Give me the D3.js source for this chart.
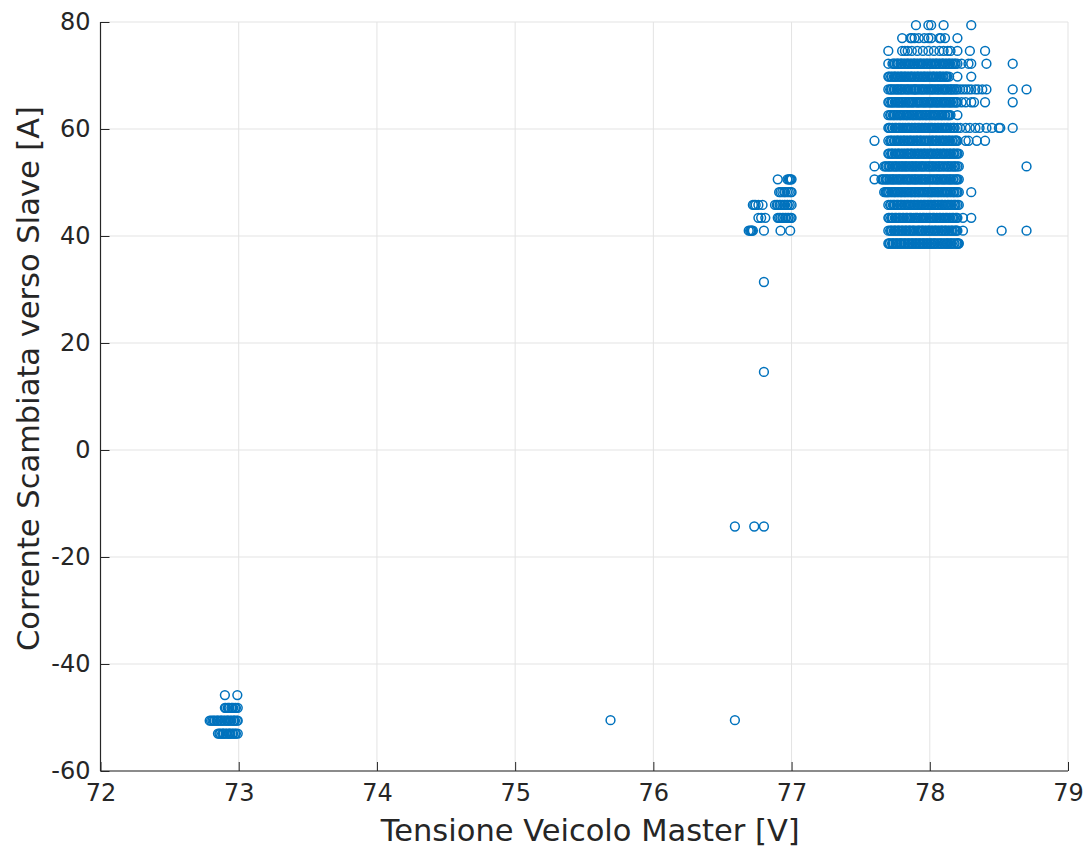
<!DOCTYPE html>
<html>
<head>
<meta charset="utf-8">
<script src="https://cdn.jsdelivr.net/npm/d3@7"></script>
<style>
  html, body { margin: 0; padding: 0; background: #ffffff; }
  svg { display: block; }
  text { font-family: "DejaVu Sans", sans-serif; fill: #262626; }
</style>
</head>
<body>
<svg id="chart" width="1090" height="850"></svg>
<script>
// Axis ticks
const xTicks = [72, 73, 74, 75, 76, 77, 78, 79];
const yTicks = [-60, -40, -20, 0, 20, 40, 60, 80];

// Master voltage samples [V] grouped by exchanged current level [A] — main cluster
const v38_6 = [77.700,77.707,77.713,77.727,77.733,77.740,77.753,77.760,77.767,77.780,77.787,77.793,
  77.800,77.813,77.820,77.827,77.840,77.847,77.853,77.867,77.873,77.880,77.893,
  77.900,77.907,77.920,77.927,77.933,77.947,77.953,77.960,77.973,77.980,77.987,
  78.000,78.007,78.013,78.027,78.033,78.040,78.053,78.060,78.073,78.080,78.087,
  78.100,78.107,78.120,78.127,78.133,78.147,78.153,78.160,78.173,78.180,78.193,
  78.200,78.207,78.210];
const v41_0 = [77.700,77.713,77.720,77.727,77.740,77.747,77.753,77.767,77.773,77.780,77.793,
  77.800,77.807,77.820,77.827,77.833,77.847,77.853,77.860,77.873,77.880,77.887,
  77.900,77.913,77.920,77.927,77.940,77.947,77.953,77.967,77.973,77.987,77.993,
  78.000,78.013,78.020,78.033,78.040,78.047,78.060,78.067,78.080,78.087,78.093,
  78.107,78.113,78.120,78.133,78.140,78.153,78.160,78.167,78.180,78.187,78.193,
  78.200,78.240,78.520,78.700];
const v43_4 = [77.700,77.707,77.720,77.727,77.733,77.747,77.753,77.760,77.773,77.780,77.787,
  77.800,77.807,77.813,77.827,77.833,77.840,77.853,77.860,77.867,77.880,77.893,
  77.900,77.907,77.913,77.927,77.933,77.947,77.953,77.960,77.973,77.980,77.993,
  78.000,78.007,78.020,78.027,78.033,78.047,78.053,78.067,78.073,78.080,78.093,
  78.100,78.113,78.120,78.127,78.140,78.147,78.160,78.167,78.173,78.187,78.193,
  78.200,78.240,78.300];
const v45_8 = [77.700,77.713,77.720,77.733,77.740,77.747,77.760,77.767,77.773,77.787,77.793,
  77.800,77.813,77.820,77.833,77.840,77.847,77.860,77.867,77.880,77.887,77.893,
  77.907,77.913,77.920,77.933,77.940,77.953,77.960,77.967,77.980,77.987,77.993,
  78.007,78.013,78.027,78.033,78.040,78.053,78.060,78.067,78.080,78.087,78.093,
  78.107,78.113,78.127,78.133,78.140,78.153,78.160,78.173,78.180,78.187,78.200,78.210];
const v48_2 = [77.670,77.680,77.687,77.693,
  77.700,77.707,77.720,77.727,77.740,77.747,77.753,77.767,77.773,77.787,77.793,
  77.800,77.813,77.820,77.827,77.840,77.847,77.860,77.867,77.873,77.887,77.893,
  77.900,77.913,77.920,77.927,77.940,77.947,77.960,77.967,77.980,77.987,77.993,
  78.007,78.013,78.020,78.033,78.040,78.053,78.060,78.067,78.080,78.087,
  78.100,78.107,78.120,78.127,78.133,78.147,78.153,78.167,78.173,78.180,78.193,
  78.200,78.210,78.300];
const v50_6 = [77.600,77.650,77.660,77.667,77.680,77.687,77.693,
  77.707,77.713,77.727,77.733,77.740,77.753,77.760,77.773,77.780,77.787,
  77.800,77.807,77.820,77.827,77.840,77.847,77.853,77.867,77.873,77.887,77.893,
  77.900,77.913,77.920,77.933,77.940,77.947,77.960,77.967,77.973,77.987,77.993,
  78.007,78.013,78.027,78.033,78.047,78.053,78.060,78.073,78.080,78.093,
  78.100,78.107,78.120,78.127,78.140,78.147,78.153,78.167,78.173,78.187,78.193,
  78.200,78.210];
const v53_0 = [77.600,77.670,77.680,77.687,
  77.700,77.707,77.713,77.727,77.733,77.747,77.753,77.760,77.773,77.780,77.793,
  77.800,77.807,77.820,77.827,77.833,77.847,77.853,77.867,77.873,77.880,77.893,
  77.900,77.907,77.920,77.927,77.940,77.947,77.953,77.967,77.973,77.987,77.993,
  78.000,78.013,78.020,78.027,78.040,78.047,78.060,78.067,78.073,78.087,78.093,
  78.107,78.113,78.127,78.133,78.140,78.153,78.160,78.173,78.180,78.187,
  78.200,78.210,78.700];
const v55_4 = [77.700,77.707,77.720,77.727,77.733,77.747,77.753,77.767,77.773,77.780,77.793,
  77.800,77.813,77.820,77.833,77.840,77.847,77.860,77.867,77.873,77.887,77.893,
  77.907,77.913,77.920,77.933,77.940,77.953,77.960,77.967,77.980,77.987,
  78.000,78.007,78.013,78.027,78.033,78.047,78.053,78.060,78.073,78.080,78.093,
  78.100,78.107,78.120,78.127,78.140,78.147,78.153,78.167,78.173,78.180,78.193,
  78.200,78.210];
const v57_8 = [77.600,
  77.700,77.713,77.720,77.727,77.740,77.747,77.760,77.767,77.773,77.787,77.793,
  77.807,77.813,77.820,77.833,77.840,77.853,77.860,77.867,77.880,77.887,
  77.900,77.907,77.913,77.927,77.933,77.940,77.953,77.960,77.973,77.980,77.993,
  78.000,78.013,78.020,78.027,78.040,78.047,78.053,78.067,78.073,78.087,78.093,
  78.100,78.113,78.120,78.133,78.140,78.147,78.160,78.167,78.180,78.187,78.193,
  78.200,78.260,78.280,78.340,78.400];
const v60_2 = [77.700,77.707,77.713,77.727,77.733,77.747,77.753,77.760,77.773,77.780,77.787,
  77.800,77.807,77.820,77.827,77.840,77.847,77.853,77.867,77.873,77.887,77.893,
  77.900,77.913,77.920,77.927,77.940,77.947,77.960,77.967,77.973,77.987,77.993,
  78.007,78.013,78.020,78.033,78.040,78.053,78.060,78.067,78.080,78.087,
  78.100,78.107,78.120,78.127,78.133,78.147,78.153,78.167,78.173,78.180,
  78.200,78.220,78.260,78.290,78.330,78.360,78.410,78.450,78.500,78.510,78.600];
const v62_6 = [77.700,77.713,77.720,77.733,77.740,77.747,77.760,77.767,77.780,77.787,77.793,
  77.807,77.813,77.827,77.833,77.840,77.853,77.860,77.873,77.880,77.887,
  77.900,77.907,77.920,77.927,77.933,77.947,77.953,77.967,77.973,77.980,77.993,
  78.000,78.013,78.020,78.033,78.040,78.047,78.060,78.067,78.080,78.087,78.093,
  78.107,78.113,78.127,78.133,78.140,78.150,78.200];
const v65_0 = [77.700,77.707,77.720,77.727,77.733,77.747,77.753,77.767,77.773,77.780,77.793,
  77.800,77.807,77.820,77.827,77.840,77.847,77.853,77.867,77.873,77.880,77.893,
  77.907,77.913,77.920,77.933,77.940,77.953,77.960,77.967,77.980,77.987,
  78.000,78.007,78.013,78.027,78.033,78.047,78.053,78.060,78.073,78.080,78.093,
  78.100,78.107,78.120,78.127,78.140,78.147,78.153,78.167,78.173,78.187,78.193,
  78.200,78.230,78.260,78.300,78.320,78.400,78.600];
const v67_4 = [77.700,77.713,77.720,77.727,77.740,77.747,77.760,77.767,77.773,77.787,77.793,
  77.800,77.813,77.820,77.833,77.840,77.847,77.860,77.867,77.880,77.887,77.893,
  77.900,77.907,77.920,77.927,77.940,77.947,77.953,77.967,77.973,77.987,77.993,
  78.007,78.013,78.020,78.033,78.040,78.053,78.060,78.067,78.080,78.087,
  78.100,78.107,78.113,78.127,78.133,78.147,78.153,78.160,78.173,78.180,78.193,
  78.200,78.220,78.240,78.260,78.280,78.300,78.330,78.350,78.380,78.410,78.600,78.700];
const v69_8 = [77.700,77.707,77.720,77.727,77.740,77.747,77.753,77.767,77.773,77.787,77.793,
  77.800,77.813,77.820,77.827,77.840,77.847,77.860,77.867,77.873,77.887,77.893,
  77.907,77.913,77.920,77.933,77.940,77.953,77.960,77.967,77.980,77.987,
  78.000,78.007,78.020,78.027,78.033,78.047,78.053,78.067,78.073,78.080,78.093,
  78.100,78.113,78.120,78.127,78.140,78.200,78.300];
const v72_2 = [77.700,77.730,77.740,77.747,77.760,77.767,77.773,77.787,77.793,
  77.800,77.813,77.820,77.833,77.840,77.847,77.860,77.867,77.880,77.887,77.893,
  77.907,77.913,77.927,77.933,77.940,77.953,77.960,77.973,77.980,77.987,
  78.000,78.007,78.020,78.027,78.040,78.047,78.053,78.067,78.073,78.087,78.093,
  78.100,78.113,78.120,78.133,78.140,78.147,78.160,78.167,78.180,78.187,
  78.200,78.230,78.280,78.300,78.410,78.600];
const v74_6 = [77.70,77.80,77.82,77.84,77.87,77.91,77.95,77.99,78.03,78.07,78.10,78.13,78.15,78.20,78.29,78.40];
const v77_0 = [77.80,77.86,77.87,77.89,77.92,77.96,77.99,78.01,78.07,78.08,78.11,78.20];
const v79_4 = [77.90,77.99,78.01,78.10,78.30];

const mainLevels = [38.6, 41.0, 43.4, 45.8, 48.2, 50.6, 53.0, 55.4, 57.8, 60.2, 62.6, 65.0, 67.4, 69.8, 72.2, 74.6, 77.0, 79.4];
const mainRows = [v38_6, v41_0, v43_4, v45_8, v48_2, v50_6, v53_0, v55_4, v57_8, v60_2, v62_6, v65_0, v67_4, v69_8, v72_2, v74_6, v77_0, v79_4];

// Intermediate cluster near 77 V
const m41_0 = [76.690,76.700,76.707,76.713,76.720,76.800,76.920,76.990];
const m43_4 = [76.760,76.780,76.810,76.900,76.910,76.920,76.933,76.940,76.953,76.960,76.973,76.980,76.993,77.000];
const m45_8 = [76.720,76.730,76.740,76.760,76.790,76.880,76.893,76.900,76.913,76.920,76.933,76.947,76.953,76.967,76.973,76.987,77.000];
const m48_2 = [76.910,76.920,76.933,76.947,76.953,76.967,76.980,76.993,77.000];
const m50_6 = [76.900,76.970,76.980,76.987,76.993,77.000];
const midLevels = [41.0, 43.4, 45.8, 48.2, 50.6];
const midRows = [m41_0, m43_4, m45_8, m48_2, m50_6];

// Low-voltage cluster near 73 V (negative current)
const b45_8 = [72.900,72.990];
const b48_2 = [72.900,72.907,72.920,72.927,72.933,72.947,72.953,72.960,72.973,72.980,72.993];
const b50_6 = [72.790,72.800,72.810,72.820,72.827,72.840,72.847,72.853,72.867,72.873,72.880,72.893,72.900,72.913,72.920,72.927,72.940,72.947,72.960,72.967,72.973,72.987,72.993];
const b53_0 = [72.850,72.860,72.867,72.880,72.887,72.893,72.907,72.913,72.927,72.933,72.940,72.953,72.960,72.973,72.980,72.993];
const lowLevels = [-45.8, -48.2, -50.6, -53.0];
const lowRows = [b45_8, b48_2, b50_6, b53_0];

// Isolated samples
const isoVoltage = [76.80, 76.80, 76.59, 76.73, 76.80, 75.69, 76.59];
const isoCurrent = [31.4, 14.6, -14.3, -14.3, -14.3, -50.5, -50.5];

// Build the point list
const points = [];
function addRows(levels, rows) {
  rows.forEach((row, i) => row.forEach(v => points.push({ v, i: levels[i] })));
}
addRows(lowLevels, lowRows);
addRows(midLevels, midRows);
addRows(mainLevels, mainRows);
isoVoltage.forEach((v, k) => points.push({ v, i: isoCurrent[k] }));

// Layout
const plot = { left: 100.5, right: 1068, top: 22, bottom: 771 };
const svg = d3.select("#chart");
const axisColor = "#262626";
const gridColor = "#e3e3e3";
const markColor = "#0072BD";

const x = d3.scaleLinear().domain([72, 79]).range([plot.left, plot.right]);
const y = d3.scaleLinear().domain([-60, 80]).range([plot.bottom, plot.top]);

// Grid
const grid = svg.append("g");
grid.selectAll("line.gx").data(xTicks).join("line")
  .attr("x1", d => x(d)).attr("x2", d => x(d))
  .attr("y1", plot.top).attr("y2", plot.bottom)
  .attr("stroke", gridColor).attr("stroke-width", 1);
grid.selectAll("line.gy").data(yTicks).join("line")
  .attr("y1", d => y(d)).attr("y2", d => y(d))
  .attr("x1", plot.left).attr("x2", plot.right)
  .attr("stroke", gridColor).attr("stroke-width", 1);

// Scatter markers
svg.append("g").selectAll("circle").data(points).join("circle")
  .attr("cx", d => x(d.v))
  .attr("cy", d => y(d.i))
  .attr("r", 4.4)
  .attr("fill", "none")
  .attr("stroke", markColor)
  .attr("stroke-width", 1.5);

// Axes (ticks point inward)
const tickLen = 9;
const xAxis = d3.axisBottom(x).tickValues(xTicks).tickSize(-tickLen).tickPadding(13).tickFormat(d3.format("d"));
const yAxis = d3.axisLeft(y).tickValues(yTicks).tickSize(-tickLen).tickPadding(10).tickFormat(d => String(d));

const gx = svg.append("g").attr("transform", `translate(0,${plot.bottom})`).call(xAxis);
const gy = svg.append("g").attr("transform", `translate(${plot.left},0)`).call(yAxis);

[gx, gy].forEach(g => {
  g.select(".domain").attr("stroke", axisColor).attr("stroke-width", 1.2);
  g.selectAll(".tick line").attr("stroke", axisColor).attr("stroke-width", 1);
  g.selectAll(".tick text").attr("font-size", 24).attr("fill", axisColor)
    .style("font-family", '"DejaVu Sans", sans-serif');
});
gx.select(".domain").attr("d", `M${plot.left},0H${plot.right}`);
gy.select(".domain").attr("d", `M0,${plot.bottom}V${plot.top}`);

// Axis titles
svg.append("text")
  .attr("x", (plot.left + plot.right) / 2 + 6)
  .attr("y", 841)
  .attr("text-anchor", "middle")
  .attr("font-size", 30.5)
  .text("Tensione Veicolo Master [V]");

svg.append("text")
  .attr("transform", `translate(39,${(plot.top + plot.bottom) / 2 - 18}) rotate(-90)`)
  .attr("text-anchor", "middle")
  .attr("font-size", 30.5)
  .text("Corrente Scambiata verso Slave [A]");
</script>
</body>
</html>
